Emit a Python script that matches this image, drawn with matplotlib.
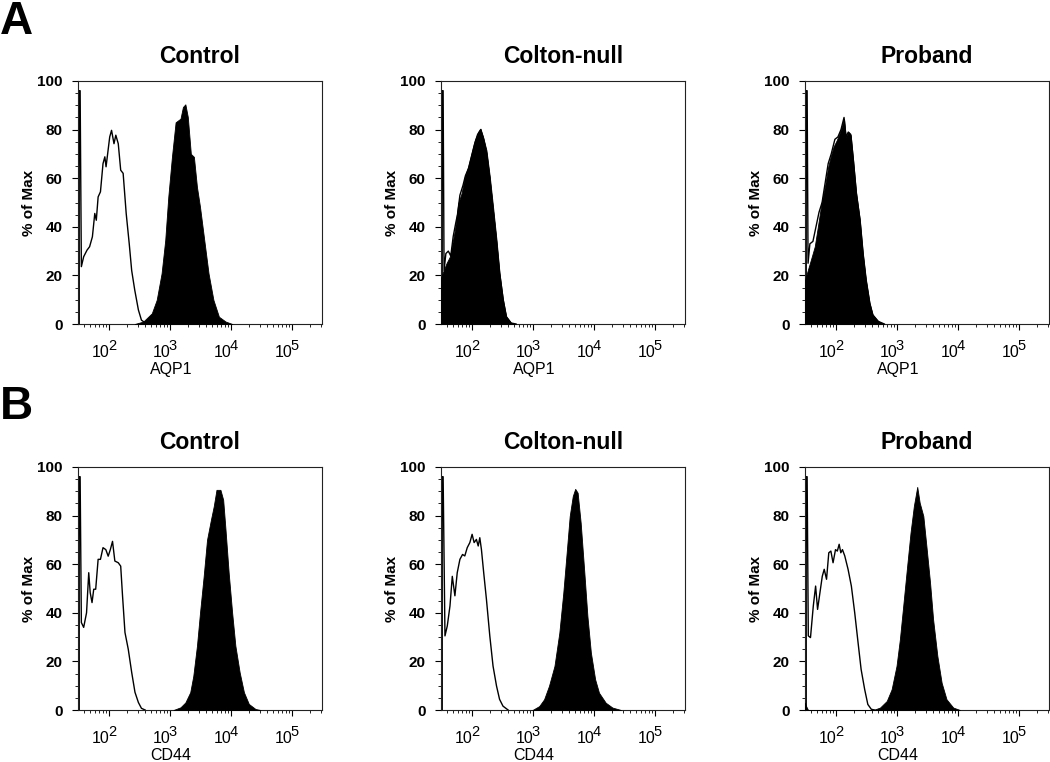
import numpy as np
import matplotlib.pyplot as plt
from matplotlib.ticker import FixedLocator, LogLocator, MultipleLocator, NullFormatter
from matplotlib.transforms import blended_transform_factory

plt.rcParams['font.family'] = ['Liberation Sans', 'DejaVu Sans']

groups = ["Control", "Colton-null", "Proband"]
markers = ["AQP1", "CD44"]
row_letters = ["A", "B"]
x_tick_exp = [2, 3, 4, 5]
y_ticks = [0, 20, 40, 60, 80, 100]

# values: x = log10(intensity), y = % of Max
# open curves = unstained/isotype, filled curves = stained

# --- AQP1 ---
aqp1_ctrl_open_x = [1.52, 1.52, 1.535, 1.555, 1.593, 1.648, 1.69, 1.736, 1.775, 1.80, 1.83, 1.868,
                    1.91, 1.94, 1.96, 2.02, 2.05, 2.09, 2.12, 2.16, 2.20, 2.24, 2.29, 2.34, 2.38,
                    2.43, 2.49, 2.54, 2.60, 2.68]
aqp1_ctrl_open_y = [0, 96, 96, 23.6, 27.7, 30.4, 31.8, 35.9, 45.5, 42.7, 52.3, 54.4,
                    66, 68.8, 64.7, 77, 79.7, 74.2, 77.7, 74.2, 63.3, 62, 45.5, 33, 22,
                    14, 5.8, 1.6, 0.5, 0]
aqp1_ctrl_fill_x = [2.43, 2.57, 2.71, 2.79, 2.87, 2.93, 2.98, 3.04, 3.10, 3.18, 3.22, 3.26, 3.30,
                    3.35, 3.40, 3.45, 3.50, 3.57, 3.64, 3.72, 3.81, 3.92, 4.03]
aqp1_ctrl_fill_y = [0, 1, 4.4, 9.9, 20.8, 34.5, 52.3, 68.8, 83, 84.5, 89.3, 90.4, 85.2,
                    70, 68.8, 56.4, 48.2, 34.5, 20.8, 9.9, 3, 1, 0]

aqp1_null_open_x = [1.52, 1.52, 1.535, 1.55, 1.58, 1.62, 1.66, 1.70, 1.745, 1.77, 1.81, 1.86,
                    1.90, 1.95, 2.0, 2.05, 2.10, 2.15, 2.20, 2.25, 2.30, 2.35, 2.41, 2.46,
                    2.52, 2.57, 2.65, 2.73]
aqp1_null_open_y = [0, 96, 96, 22, 29, 30, 28, 36, 42, 45, 53, 57,
                    61, 64, 69, 74, 78, 80, 76, 70, 60, 48, 34, 21,
                    10, 3, 0.4, 0]
aqp1_null_fill_x = [1.5, 1.527, 1.59, 1.647, 1.728, 1.783, 1.837, 1.89, 1.946, 2.0, 2.054, 2.11,
                    2.147, 2.19, 2.245, 2.30, 2.353, 2.41, 2.46, 2.516, 2.57, 2.65, 2.73]
aqp1_null_fill_y = [19, 21, 25, 27.8, 38.7, 49.7, 53.8, 60.6, 64.7, 70.2, 75.6, 79,
                    80.4, 77, 71.5, 60.6, 48.3, 34.6, 21, 10, 3.1, 0.4, 0]

aqp1_prob_open_x = [1.52, 1.52, 1.535, 1.55, 1.58, 1.63, 1.68, 1.73, 1.78, 1.83, 1.88, 1.93,
                    1.99, 2.04, 2.09, 2.14, 2.17, 2.21, 2.25, 2.29, 2.34, 2.40, 2.45, 2.50,
                    2.56, 2.61, 2.70, 2.80]
aqp1_prob_open_y = [0, 96, 96, 25, 33, 34, 40, 46, 50, 58, 66, 70,
                    76, 77, 80, 85, 77, 79, 78, 68, 54, 43, 29, 18,
                    8.6, 3.8, 1.1, 0]
aqp1_prob_fill_x = [1.5, 1.516, 1.58, 1.66, 1.72, 1.77, 1.826, 1.88, 1.92, 1.967, 2.02, 2.065,
                    2.10, 2.14, 2.17, 2.21, 2.25, 2.29, 2.34, 2.40, 2.45, 2.50, 2.56, 2.61,
                    2.70, 2.80]
aqp1_prob_fill_y = [18, 19.6, 25, 31.9, 41.5, 49.7, 56.5, 64.7, 68.8, 72.9, 75.6, 78.4,
                    81, 84.5, 77, 79, 77.7, 67.4, 53.8, 42.8, 29, 18.2, 8.6, 3.8,
                    1.1, 0]

# --- CD44 ---
cd44_ctrl_open_x = [1.52, 1.52, 1.535, 1.555, 1.593, 1.64, 1.676, 1.70, 1.73, 1.758, 1.79, 1.83,
                    1.868, 1.91, 1.956, 1.995, 2.03, 2.066, 2.104, 2.16, 2.20, 2.23, 2.27, 2.324,
                    2.38, 2.434, 2.49, 2.54, 2.60]
cd44_ctrl_open_y = [0, 96, 96, 36, 34, 40, 56.5, 48.3, 44.2, 49.7, 49.7, 62,
                    62, 66.8, 66, 63.3, 66, 69.4, 61.3, 60.6, 59.2, 47, 31.9, 25,
                    15.5, 7.3, 3.1, 0.7, 0]
cd44_ctrl_fill_x = [3.066, 3.18, 3.26, 3.34, 3.39, 3.45, 3.50, 3.56, 3.615, 3.68, 3.725, 3.77,
                    3.835, 3.88, 3.918, 3.97, 4.027, 4.08, 4.15, 4.22, 4.30, 4.41, 4.49]
cd44_ctrl_fill_y = [0, 1.1, 3.1, 7.3, 14, 26.4, 40, 55, 70, 78.4, 83.8, 90.6,
                    90.6, 86.5, 74.3, 56.5, 40, 26.4, 15.5, 7.3, 2.5, 0.4, 0]

cd44_null_open_x = [1.52, 1.52, 1.535, 1.565, 1.603, 1.647, 1.685, 1.728, 1.766, 1.81, 1.853, 1.89,
                    1.93, 1.973, 2.01, 2.043, 2.08, 2.11, 2.136, 2.163, 2.20, 2.245, 2.30, 2.353,
                    2.41, 2.46, 2.516, 2.60]
cd44_null_open_y = [0, 96, 96, 30.5, 34.6, 42.8, 55, 47, 56.5, 62, 64, 63.4,
                    66.8, 68.9, 72.3, 68.9, 70.2, 67.5, 70.9, 66, 56.5, 45.5, 30.5, 18.1,
                    9.9, 4.4, 1.6, 0]
cd44_null_fill_x = [3.0, 3.11, 3.19, 3.27, 3.36, 3.44, 3.505, 3.56, 3.61, 3.66, 3.70, 3.74,
                    3.79, 3.85, 3.90, 3.957, 4.027, 4.09, 4.20, 4.31, 4.45]
cd44_null_fill_y = [0, 1.6, 4.4, 9.9, 18.1, 31.8, 48.3, 64.7, 79.8, 88, 91, 89.4,
                    77, 56.5, 38.7, 23.6, 12.6, 7.1, 3, 1, 0]

cd44_prob_open_x = [1.52, 1.52, 1.535, 1.554, 1.59, 1.636, 1.674, 1.706, 1.745, 1.783, 1.815, 1.853,
                    1.89, 1.924, 1.96, 2.0, 2.03, 2.06, 2.087, 2.114, 2.152, 2.206, 2.26, 2.315,
                    2.37, 2.42, 2.478, 2.53, 2.587, 2.64]
cd44_prob_open_y = [0, 96, 96, 30.5, 29.8, 42.8, 51, 41.4, 48.3, 55, 57.9, 53.8,
                    64.7, 65.4, 60.6, 66, 65.4, 68.2, 64.7, 66, 63.4, 57.9, 51, 40,
                    27.7, 16.7, 8.5, 2.3, 0.3, 0]
cd44_prob_fill_x = [1.5, 1.52, 1.55, 2.62, 2.73, 2.84, 2.92, 3.0, 3.055, 3.11, 3.175, 3.23,
                    3.285, 3.34, 3.38, 3.44, 3.49, 3.55, 3.60, 3.67, 3.74, 3.82, 3.93, 4.04]
cd44_prob_fill_y = [3, 1.5, 0, 0, 1, 3.7, 8.5, 18.1, 29, 42.8, 59.3, 73,
                    84, 91.8, 85.3, 79.8, 67.5, 52.4, 37.3, 22.2, 11.2, 4.4, 1, 0]

panels = [
    [(aqp1_ctrl_open_x, aqp1_ctrl_open_y, aqp1_ctrl_fill_x, aqp1_ctrl_fill_y),
     (aqp1_null_open_x, aqp1_null_open_y, aqp1_null_fill_x, aqp1_null_fill_y),
     (aqp1_prob_open_x, aqp1_prob_open_y, aqp1_prob_fill_x, aqp1_prob_fill_y)],
    [(cd44_ctrl_open_x, cd44_ctrl_open_y, cd44_ctrl_fill_x, cd44_ctrl_fill_y),
     (cd44_null_open_x, cd44_null_open_y, cd44_null_fill_x, cd44_null_fill_y),
     (cd44_prob_open_x, cd44_prob_open_y, cd44_prob_fill_x, cd44_prob_fill_y)],
]

W, H = 1050, 762
fig = plt.figure(figsize=(W / 100, H / 100), dpi=100)

col_left = [78, 441, 805]
row_top = [81, 467]
ax_w, ax_h = 244, 243

for r in range(2):
    for c in range(3):
        ax = fig.add_axes([col_left[c] / W, 1 - (row_top[r] + ax_h) / H, ax_w / W, ax_h / H])
        ox, oy, fx, fy = panels[r][c]
        ax.plot(10 ** np.array(ox), oy, color='black', lw=1.0, zorder=2)
        ax.fill_between(10 ** np.array(fx), fy, 0, color='black', lw=0.6, zorder=3)

        ax.set_xscale('log')
        ax.set_xlim(10 ** 1.5, 10 ** 5.5)
        ax.set_ylim(0, 100)
        ax.xaxis.set_major_locator(FixedLocator([10.0 ** e for e in x_tick_exp]))
        ax.set_xticklabels([])
        ax.xaxis.set_minor_locator(LogLocator(base=10, subs=np.arange(2, 10)))
        ax.xaxis.set_minor_formatter(NullFormatter())
        ax.set_yticks(y_ticks)
        ax.yaxis.set_minor_locator(MultipleLocator(5))

        ax.tick_params(which='major', direction='out', length=4, width=0.8, top=False, right=False)
        ax.tick_params(which='minor', direction='out', length=2, width=0.6, top=False, right=False)
        ax.tick_params(axis='y', which='major', labelsize=11, pad=7)
        for lab in ax.get_yticklabels():
            lab.set_fontweight('bold')
        for s in ax.spines.values():
            s.set_linewidth(0.8)
            s.set_color('#222222')

        # FlowJo-style decade labels: "10" left of the tick, exponent raised just right of it
        trans = blended_transform_factory(ax.transData, ax.transAxes)
        for e in x_tick_exp:
            ax.text(10.0 ** (e + 0.01), -0.136, '10', transform=trans, ha='right', va='baseline',
                    fontsize=11.5, clip_on=False)
            ax.text(10.0 ** (e - 0.012), -0.107, str(e), transform=trans, ha='left', va='baseline',
                    fontsize=10.5, clip_on=False)

        ax.set_title(groups[c], fontsize=16.5, fontweight='bold', pad=13)
        ax.set_ylabel('% of Max', fontsize=11, fontweight='bold')
        ax.yaxis.set_label_coords(-0.172, 0.5)
        ax.set_xlabel(markers[r], fontsize=11.5)
        ax.xaxis.set_label_coords(0.38, -0.158)

fig.text(0.0, 1.0, row_letters[0], fontsize=33, fontweight='bold', ha='left', va='top')
fig.text(0.0, 1 - 385 / H, row_letters[1], fontsize=33, fontweight='bold', ha='left', va='top')

fig.savefig('out.png', dpi=100)
